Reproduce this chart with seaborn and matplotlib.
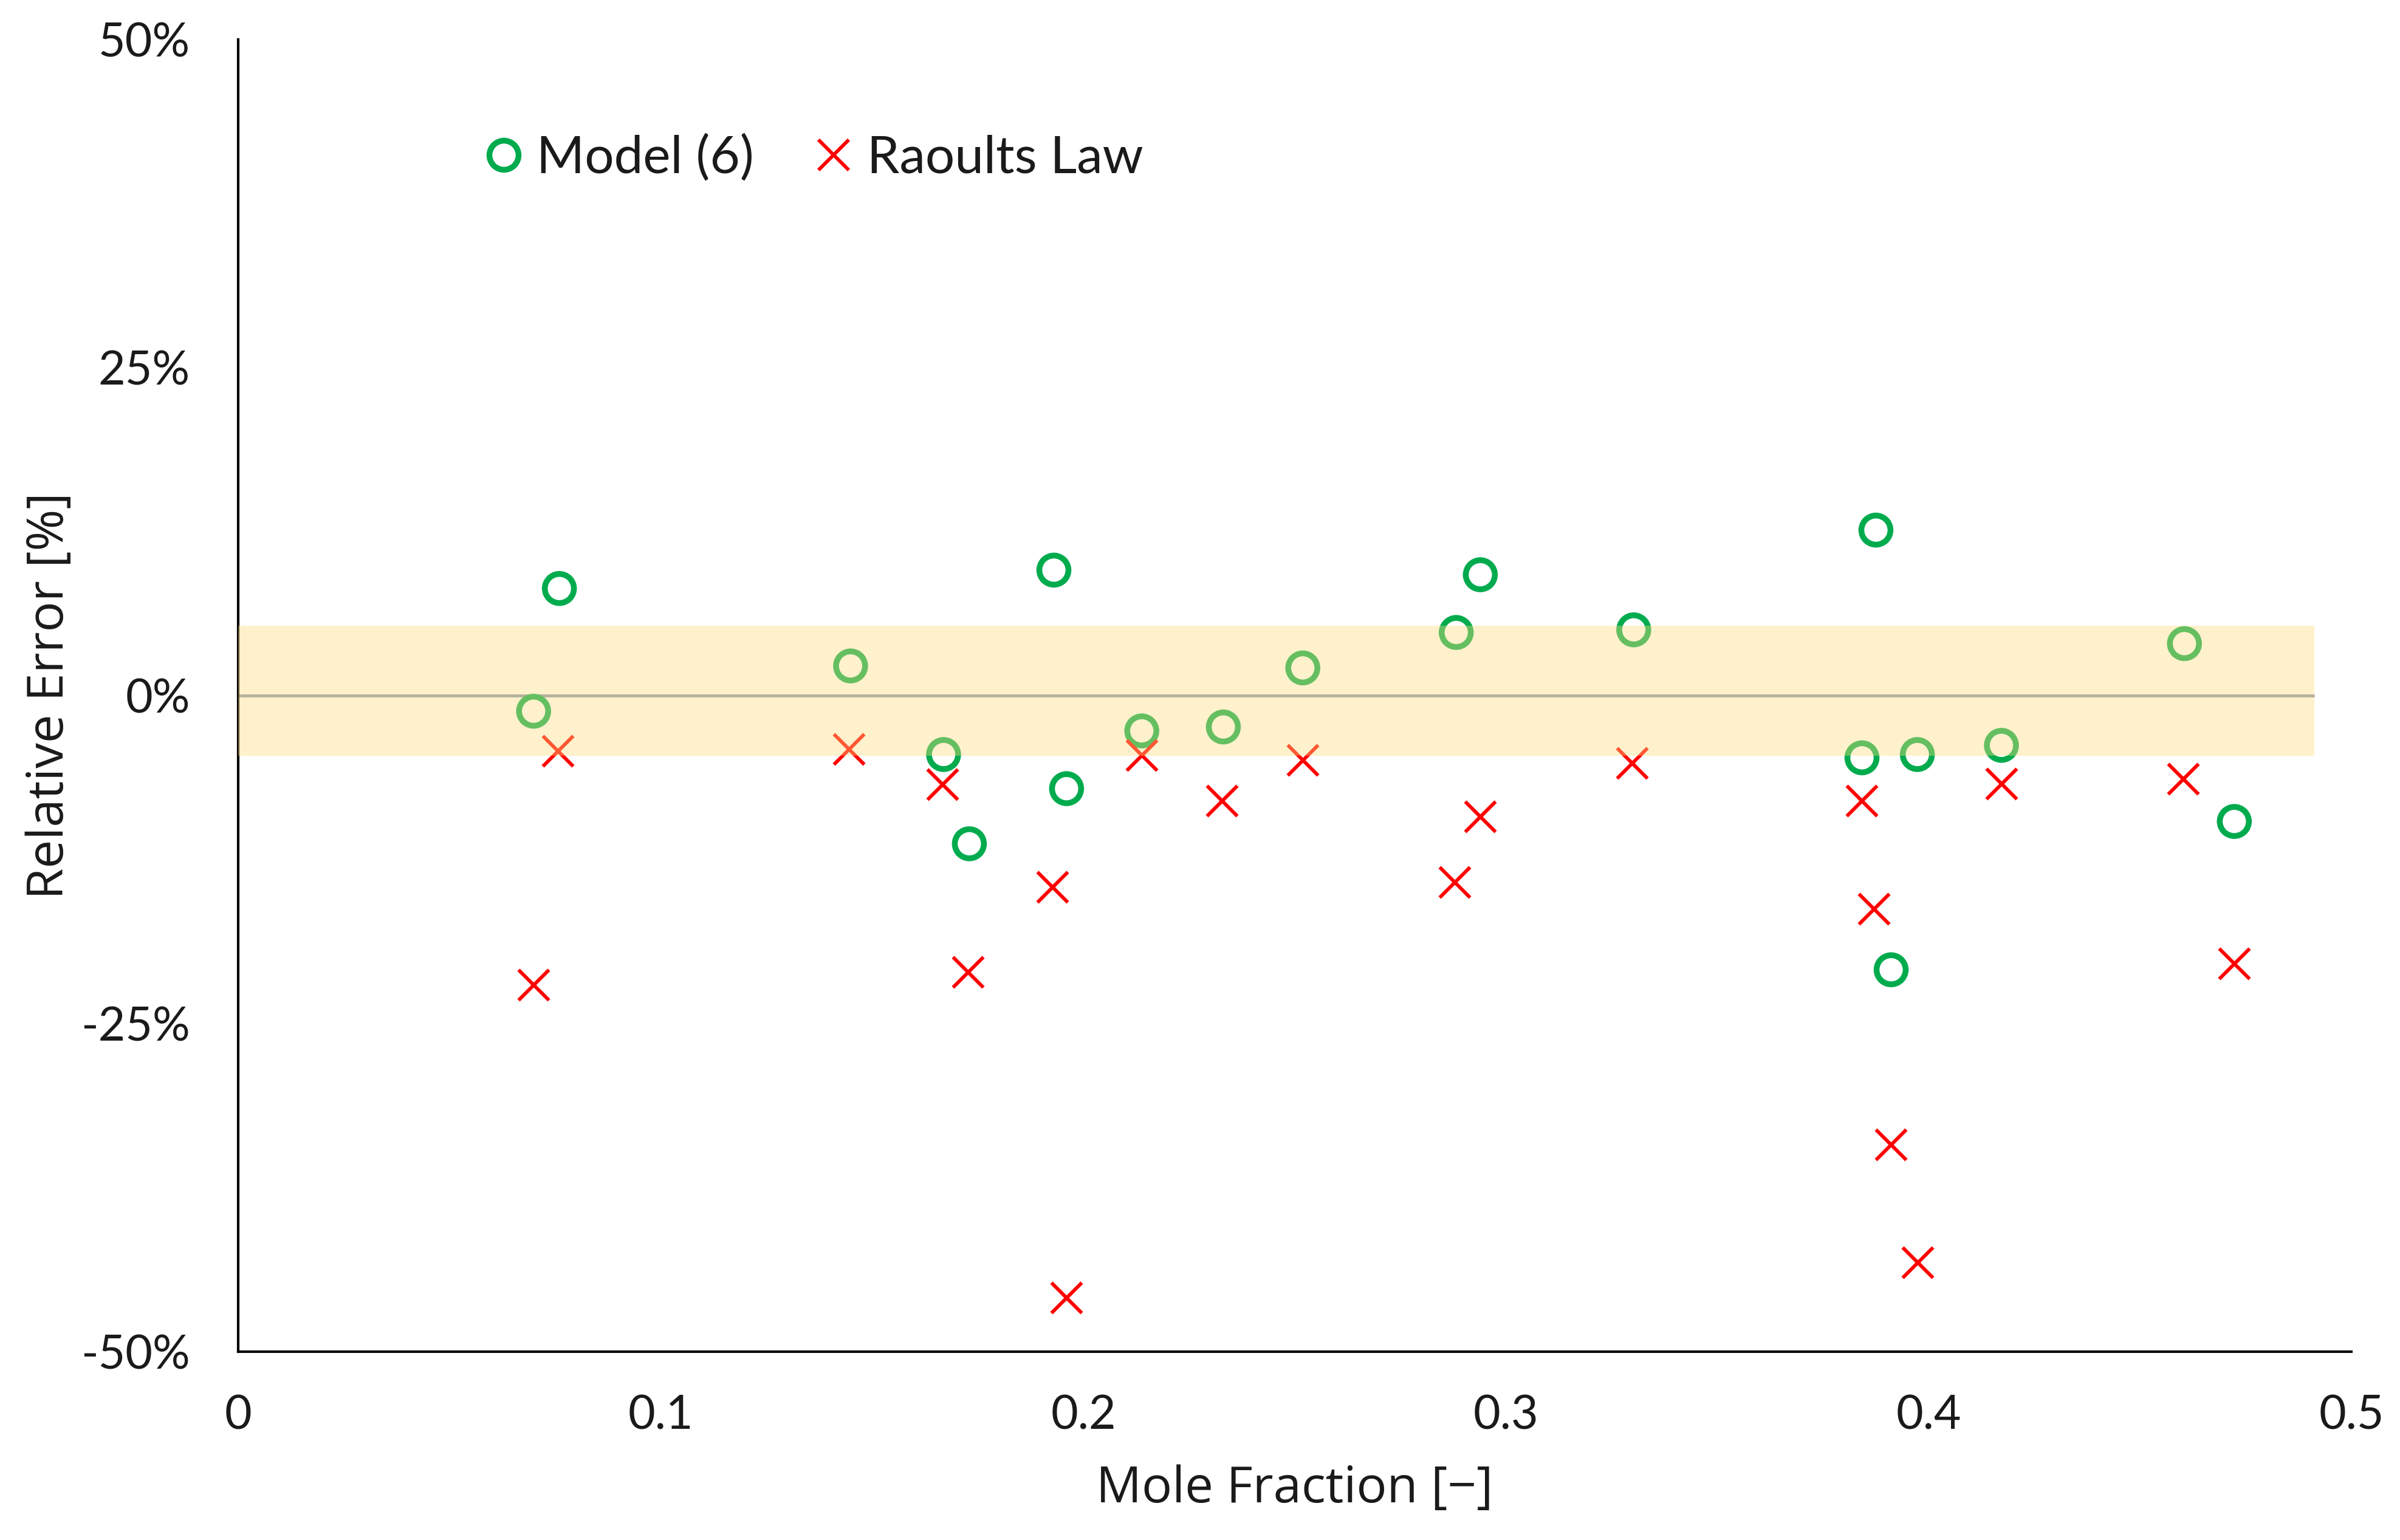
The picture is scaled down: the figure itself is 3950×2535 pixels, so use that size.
import matplotlib
matplotlib.use("Agg")
import matplotlib.pyplot as plt
from matplotlib.lines import Line2D
import seaborn as sns
import numpy as np
import pandas as pd

# ---------------- data ----------------
model_x = [0.0699, 0.0760, 0.1449, 0.1669, 0.1730, 0.1930, 0.1960, 0.2138, 0.2331, 0.2519,
           0.2882, 0.2939, 0.3302, 0.3842, 0.3875, 0.3911, 0.3973, 0.4172, 0.4605, 0.4723]
model_err = [-1.2, 8.15, 2.25, -4.5, -11.3, 9.55, -7.1, -2.7, -2.4, 2.1,
             4.8, 9.2, 5.0, -4.75, 12.6, -20.9, -4.5, -3.8, 3.95, -9.6]
raoult_x = [0.0699, 0.0756, 0.1445, 0.1666, 0.1727, 0.1927, 0.1959, 0.2138, 0.2327, 0.2519,
            0.2878, 0.2939, 0.3298, 0.3842, 0.3870, 0.3911, 0.3973, 0.4172, 0.4602, 0.4723]
raoult_err = [-22.05, -4.2, -4.1, -6.75, -21.05, -14.6, -45.9, -4.55, -8.0, -4.9,
              -14.2, -9.2, -5.15, -8.0, -16.25, -34.2, -43.2, -6.7, -6.35, -20.4]

series_labels = ["Model (6)", "Raoults Law"]
band_low, band_high = -4.6, 5.3
band_x_end = 0.4912
x_ticks = [0, 0.1, 0.2, 0.3, 0.4, 0.5]
x_ticklabels = ["0", "0.1", "0.2", "0.3", "0.4", "0.5"]
y_ticks = [-50, -25, 0, 25, 50]
y_ticklabels = ["-50%", "-25%", "0%", "25%", "50%"]

# ---------------- style ----------------
sns.set_style("white")
plt.rcParams['font.family'] = ['Lato', 'DejaVu Sans']

GREEN = "#00AB4E"
RED = "#FF0000"
BAND = "#FFDE80"
ZERO = "#8497B0"
TXT = "#1a1a1a"

fig = plt.figure(figsize=(3950 / 300, 2535 / 300), dpi=300)
ax = fig.add_axes([392 / 3950, 1 - 2225 / 2535, 3478 / 3950, (2225 - 64.6) / 2535])

df_m = pd.DataFrame({"x": model_x, "y": model_err})
df_r = pd.DataFrame({"x": raoult_x, "y": raoult_err})

ms_o, mew_o = 11.5, 2.3
ms_x, mew_x = 12.0, 1.4

sns.scatterplot(data=df_m, x="x", y="y", ax=ax, marker="o", s=ms_o ** 2,
                color=GREEN, facecolor="none", edgecolor=GREEN, linewidth=mew_o,
                zorder=2, legend=False, clip_on=False)
sns.scatterplot(data=df_r, x="x", y="y", ax=ax, marker="x", s=ms_x ** 2,
                color=RED, linewidth=mew_x, zorder=2, legend=False, clip_on=False)

# zero line and tolerance band (band drawn on top, semi-transparent)
ax.plot([0, band_x_end], [0, 0], color=ZERO, lw=1.2, zorder=1.5, solid_capstyle="butt")
ax.fill_between([0, band_x_end], [band_low, band_low], [band_high, band_high],
                color=BAND, alpha=0.4, lw=0, zorder=3)

ax.set_xlim(0, 0.5)
ax.set_ylim(-50, 50)
ax.set_xticks(x_ticks)
ax.set_xticklabels(x_ticklabels)
ax.set_yticks(y_ticks)
ax.set_yticklabels(y_ticklabels)

for s in ["top", "right"]:
    ax.spines[s].set_visible(False)
for s in ["left", "bottom"]:
    ax.spines[s].set_color("black")
    ax.spines[s].set_linewidth(1.0)

ax.tick_params(axis="both", direction="in", length=6.5, width=1.3, color="black",
               labelsize=18.5, labelcolor=TXT)
ax.tick_params(axis="y", pad=19)
ax.tick_params(axis="x", pad=17)

ax.set_xlabel("Mole Fraction [\u2212]", fontsize=20, color=TXT, family=["Open Sans", "DejaVu Sans"])
ax.set_ylabel("Relative Error [%]", fontsize=20, color=TXT, family=["Open Sans", "DejaVu Sans"])
ax.xaxis.set_label_coords(0.5, -0.086)
ax.yaxis.set_label_coords(-0.077, 0.5)

handles = [
    Line2D([], [], marker="o", ls="none", mfc="none", mec=GREEN, ms=ms_o, mew=mew_o),
    Line2D([], [], marker="x", ls="none", color=RED, ms=ms_x, mew=mew_x),
]
leg = ax.legend(handles, series_labels, loc="center left", bbox_to_anchor=(0.117, 0.9095),
                ncol=2, frameon=False, fontsize=20.5, handlelength=0.7, handletextpad=0.29,
                columnspacing=1.18, borderpad=0, borderaxespad=0)
for t in leg.get_texts():
    t.set_color(TXT)

fig.savefig("out.png", dpi=300)
